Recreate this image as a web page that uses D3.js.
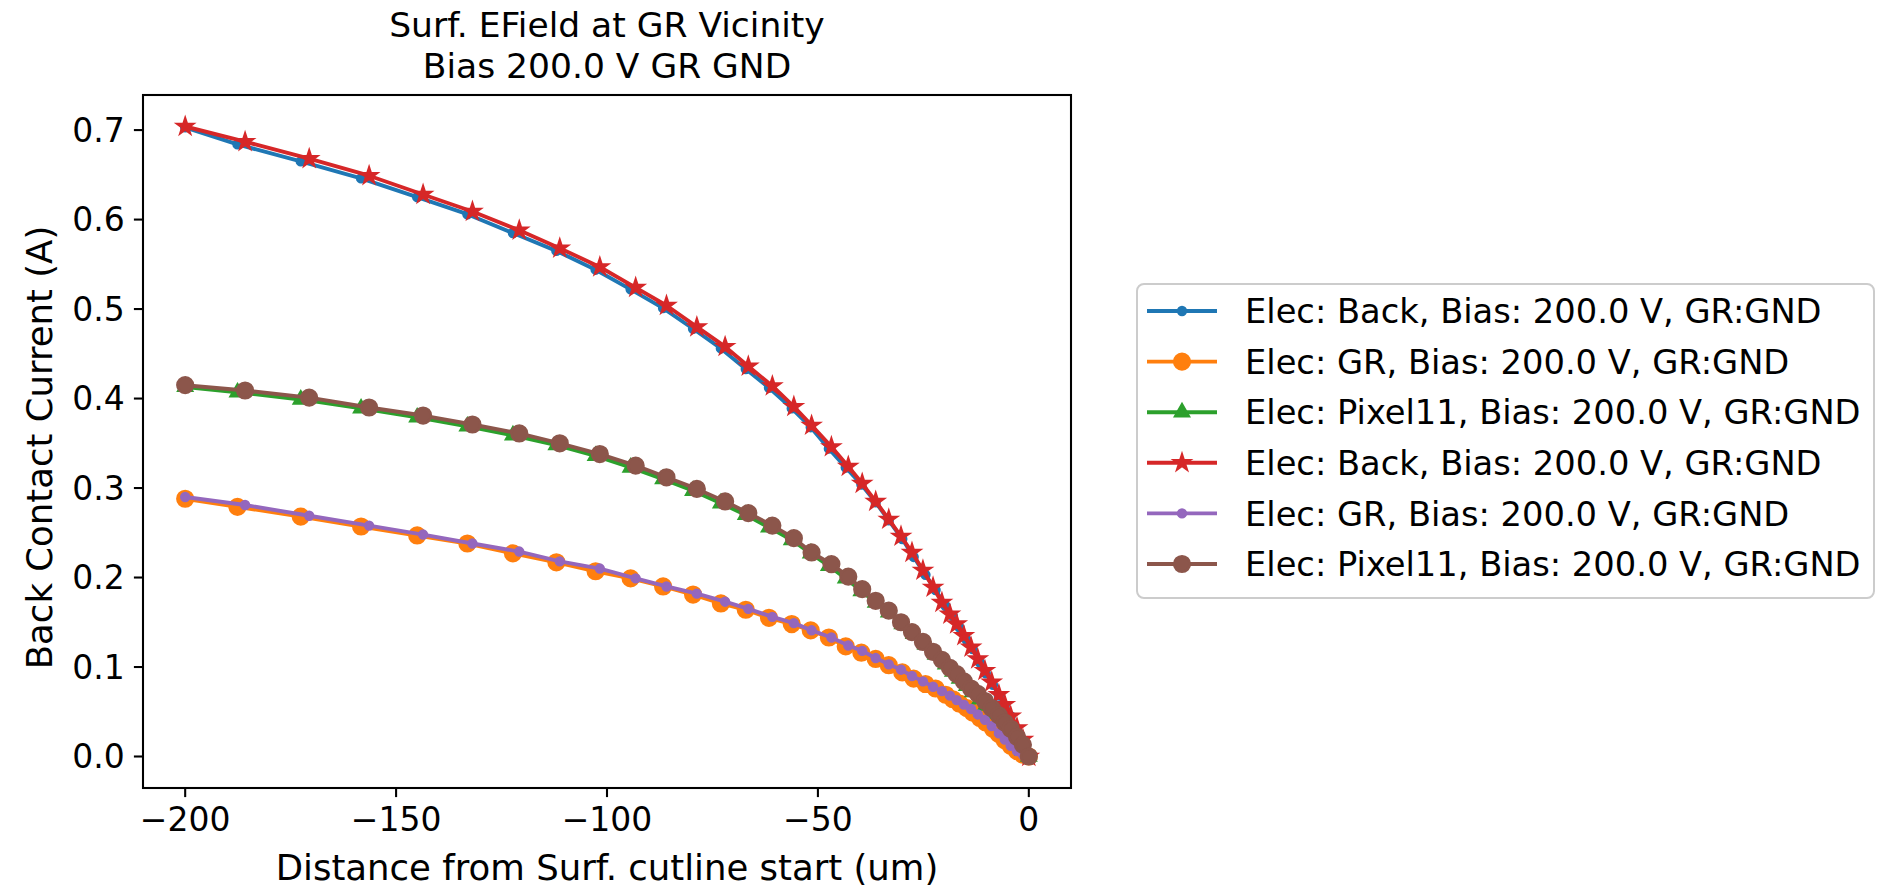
<!DOCTYPE html>
<html>
<head>
<meta charset="utf-8">
<script src="https://cdn.jsdelivr.net/npm/d3@7"></script>
<style>
  body { margin: 0; background: #fff; }
  svg text { font-family: "DejaVu Sans", sans-serif; fill: #000; }
</style>
</head>
<body>
<div id="chart"></div>
<script>
// x positions (um) of the two cutline meshes
var xMeshA = [-200, -187.6, -172.6, -158.3, -145.0, -133.1, -122.3, -112.0, -102.7, -94.4,
  -86.7, -79.6, -73.0, -67.1, -61.6, -56.2, -51.7, -47.4, -43.4, -39.7,
  -36.3, -33.2, -30.0, -27.3, -24.5, -22.1, -19.7, -18.0, -16.4, -14.7,
  -13.3, -11.6, -10.2, -8.5, -7.1, -5.7, -4.3, -2.8, -1.4, 0];
var xMeshB = [-200, -185.8, -170.6, -156.4, -143.6, -131.9, -120.8, -111.2, -101.7, -93.2,
  -85.9, -78.7, -72.0, -66.5, -60.8, -55.7, -51.5, -46.8, -42.8, -39.5,
  -36.3, -33.2, -30.3, -27.7, -25.1, -22.7, -20.6, -18.7, -17.1, -15.4,
  -13.7, -12.1, -10.4, -8.8, -7.1, -5.7, -4.3, -2.8, -1.4, 0];

// currents (A)
var backA = [0.703, 0.684, 0.665, 0.646, 0.625, 0.606, 0.585, 0.565, 0.544, 0.522,
  0.501, 0.478, 0.456, 0.433, 0.412, 0.389, 0.368, 0.344, 0.323, 0.304,
  0.284, 0.264, 0.243, 0.223, 0.203, 0.186, 0.168, 0.157, 0.144, 0.130,
  0.120, 0.105, 0.093, 0.080, 0.068, 0.057, 0.045, 0.031, 0.018, 0];
var grA = [0.288, 0.279, 0.268, 0.257, 0.247, 0.238, 0.227, 0.217, 0.207, 0.199,
  0.190, 0.181, 0.171, 0.164, 0.155, 0.148, 0.141, 0.133, 0.123, 0.116,
  0.109, 0.102, 0.094, 0.087, 0.081, 0.076, 0.069, 0.064, 0.059, 0.054,
  0.049, 0.043, 0.038, 0.031, 0.025, 0.018, 0.012, 0.006, 0.002, 0];
var pixelA = [0.413, 0.407, 0.399, 0.389, 0.379, 0.369, 0.359, 0.348, 0.336, 0.323,
  0.310, 0.297, 0.283, 0.270, 0.256, 0.242, 0.227, 0.213, 0.199, 0.185,
  0.172, 0.161, 0.148, 0.137, 0.125, 0.114, 0.103, 0.095, 0.087, 0.079,
  0.072, 0.064, 0.057, 0.048, 0.041, 0.033, 0.025, 0.016, 0.007, 0];
var backB = [0.704, 0.687, 0.668, 0.649, 0.628, 0.609, 0.588, 0.568, 0.547, 0.524,
  0.504, 0.480, 0.458, 0.436, 0.414, 0.391, 0.370, 0.346, 0.324, 0.305,
  0.285, 0.265, 0.246, 0.228, 0.208, 0.189, 0.172, 0.159, 0.148, 0.135,
  0.122, 0.109, 0.096, 0.083, 0.069, 0.058, 0.045, 0.032, 0.019, 0];
var grB = [0.290, 0.281, 0.269, 0.258, 0.248, 0.238, 0.229, 0.218, 0.210, 0.199,
  0.190, 0.182, 0.173, 0.165, 0.156, 0.149, 0.141, 0.133, 0.124, 0.118,
  0.110, 0.103, 0.097, 0.090, 0.084, 0.078, 0.073, 0.068, 0.063, 0.058,
  0.053, 0.047, 0.041, 0.034, 0.026, 0.019, 0.012, 0.006, 0.002, 0];
var pixelB = [0.415, 0.409, 0.401, 0.390, 0.381, 0.371, 0.361, 0.350, 0.338, 0.325,
  0.312, 0.299, 0.285, 0.272, 0.258, 0.244, 0.228, 0.215, 0.201, 0.187,
  0.174, 0.163, 0.150, 0.139, 0.128, 0.117, 0.108, 0.099, 0.092, 0.084,
  0.076, 0.070, 0.062, 0.054, 0.046, 0.038, 0.031, 0.022, 0.013, 0];

var seriesLabels = ["Elec: Back, Bias: 200.0 V, GR:GND", "Elec: GR, Bias: 200.0 V, GR:GND",
  "Elec: Pixel11, Bias: 200.0 V, GR:GND", "Elec: Back, Bias: 200.0 V, GR:GND",
  "Elec: GR, Bias: 200.0 V, GR:GND", "Elec: Pixel11, Bias: 200.0 V, GR:GND"];
var seriesColors = ["#1f77b4", "#ff7f0e", "#2ca02c", "#d62728", "#9467bd", "#8c564b"];
var seriesMarkers = ["point", "circle", "triangle", "star", "point", "circle"];

var xTicks = [-200, -150, -100, -50, 0];
var yTicks = [0.0, 0.1, 0.2, 0.3, 0.4, 0.5, 0.6, 0.7];

var titleLines = ["Surf. EField at GR Vicinity", "Bias 200.0 V GR GND"];
var xLabel = "Distance from Surf. cutline start (um)";
var yLabel = "Back Contact Current (A)";

// ---------------------------------------------------------------
var svgWidth = 1877, svgHeight = 888;
var plot = { left: 143, right: 1071, top: 95, bottom: 788 };
var tickFont = 33, labelFont = 35.5, titleFont = 34.5, legendFont = 33.7;
var pt = 2.6; // px per point

var series = [
  { x: xMeshA, y: backA }, { x: xMeshA, y: grA }, { x: xMeshA, y: pixelA },
  { x: xMeshB, y: backB }, { x: xMeshB, y: grB }, { x: xMeshB, y: pixelB }
].map(function(s, i) {
  return {
    label: seriesLabels[i], color: seriesColors[i], marker: seriesMarkers[i],
    points: s.x.map(function(v, j) { return { x: v, y: s.y[j] }; })
  };
});

var svg = d3.select("#chart").append("svg")
  .attr("width", svgWidth)
  .attr("height", svgHeight);

svg.append("rect").attr("width", svgWidth).attr("height", svgHeight).attr("fill", "#fff");

// matplotlib style 5% margins
var allPts = series.reduce(function(a, s) { return a.concat(s.points); }, []);
var xExt = d3.extent(allPts, d => d.x);
var yExt = d3.extent(allPts, d => d.y);
var xPad = (xExt[1] - xExt[0]) * 0.05;
var yPad = (yExt[1] - yExt[0]) * 0.05;

var xScale = d3.scaleLinear()
  .domain([xExt[0] - xPad, xExt[1] + xPad])
  .range([plot.left, plot.right]);
var yScale = d3.scaleLinear()
  .domain([yExt[0] - yPad, yExt[1] + yPad])
  .range([plot.bottom, plot.top]);

// marker shapes
function starPath(r) {
  var pts = [];
  for (var k = 0; k < 10; k++) {
    var rr = k % 2 === 0 ? r : r * 0.381966;
    var a = -Math.PI / 2 + k * Math.PI / 5;
    pts.push([rr * Math.cos(a), rr * Math.sin(a)]);
  }
  return "M" + pts.map(p => p[0].toFixed(2) + "," + p[1].toFixed(2)).join("L") + "Z";
}
function trianglePath(r) {
  var pts = [0, 1, 2].map(function(k) {
    var a = -Math.PI / 2 + k * 2 * Math.PI / 3;
    return [r * Math.cos(a), r * Math.sin(a)];
  });
  return "M" + pts.map(p => p[0].toFixed(2) + "," + p[1].toFixed(2)).join("L") + "Z";
}
var ms = 6 * pt / 2; // half of markersize 6
function drawMarker(g, type, color) {
  var m;
  if (type === "circle") m = g.append("circle").attr("r", ms);
  else if (type === "point") m = g.append("circle").attr("r", ms / 2);
  else if (type === "triangle") m = g.append("path").attr("d", trianglePath(ms));
  else m = g.append("path").attr("d", starPath(ms));
  m.attr("fill", color).attr("stroke", color).attr("stroke-width", pt);
  return m;
}

// ---------------------------------------------------------------
// series: line then markers, one series at a time
svg.append("clipPath").attr("id", "plotclip")
  .append("rect")
  .attr("x", plot.left).attr("y", plot.top)
  .attr("width", plot.right - plot.left).attr("height", plot.bottom - plot.top);

var lineGen = d3.line().x(d => xScale(d.x)).y(d => yScale(d.y));
var plotGroup = svg.append("g").attr("clip-path", "url(#plotclip)");

series.forEach(function(s) {
  var g = plotGroup.append("g");
  g.append("path")
    .datum(s.points)
    .attr("d", lineGen)
    .attr("fill", "none")
    .attr("stroke", s.color)
    .attr("stroke-width", 1.5 * pt)
    .attr("stroke-linejoin", "round")
    .attr("stroke-linecap", "square");
  s.points.forEach(function(p) {
    var mg = g.append("g").attr("transform", `translate(${xScale(p.x)},${yScale(p.y)})`);
    drawMarker(mg, s.marker, s.color);
  });
});

// ---------------------------------------------------------------
// axes
var tickLen = 3.5 * pt;
var axisColor = "#000";

var xAxis = svg.append("g");
xTicks.forEach(function(t) {
  var x = xScale(t);
  xAxis.append("line")
    .attr("x1", x).attr("x2", x)
    .attr("y1", plot.bottom).attr("y2", plot.bottom + tickLen)
    .attr("stroke", axisColor).attr("stroke-width", 0.8 * pt);
  xAxis.append("text")
    .attr("x", x).attr("y", plot.bottom + tickLen + 3.5 * pt + tickFont * 0.76)
    .attr("text-anchor", "middle")
    .style("font-size", tickFont + "px")
    .text(d3.format("d")(t));
});

var yAxis = svg.append("g");
yTicks.forEach(function(t) {
  var y = yScale(t);
  yAxis.append("line")
    .attr("x1", plot.left - tickLen).attr("x2", plot.left)
    .attr("y1", y).attr("y2", y)
    .attr("stroke", axisColor).attr("stroke-width", 0.8 * pt);
  yAxis.append("text")
    .attr("x", plot.left - tickLen - 3.5 * pt).attr("y", y)
    .attr("dy", "0.36em")
    .attr("text-anchor", "end")
    .style("font-size", tickFont + "px")
    .text(d3.format(".1f")(t));
});

// frame
svg.append("rect")
  .attr("x", plot.left).attr("y", plot.top)
  .attr("width", plot.right - plot.left).attr("height", plot.bottom - plot.top)
  .attr("fill", "none").attr("stroke", axisColor).attr("stroke-width", 0.8 * pt);

// labels and title
var midX = (plot.left + plot.right) / 2;
svg.append("text")
  .attr("x", midX).attr("y", 880)
  .attr("text-anchor", "middle")
  .style("font-size", labelFont + "px")
  .text(xLabel);

svg.append("text")
  .attr("transform", `translate(52, ${(plot.top + plot.bottom) / 2 + 6}) rotate(-90)`)
  .attr("text-anchor", "middle")
  .style("font-size", labelFont + "px")
  .text(yLabel);

titleLines.forEach(function(line, i) {
  svg.append("text")
    .attr("x", midX).attr("y", 37 + i * 41)
    .attr("text-anchor", "middle")
    .style("font-size", titleFont + "px")
    .text(line);
});

// ---------------------------------------------------------------
// legend
var legend = { x: 1137, y: 284, w: 737, h: 314, rowH: 50.6, firstRow: 311 };
svg.append("rect")
  .attr("x", legend.x).attr("y", legend.y)
  .attr("width", legend.w).attr("height", legend.h)
  .attr("rx", 7).attr("ry", 7)
  .attr("fill", "#fff").attr("fill-opacity", 0.8)
  .attr("stroke", "#cccccc").attr("stroke-width", 2);

series.forEach(function(s, i) {
  var cy = legend.firstRow + i * legend.rowH;
  var row = svg.append("g");
  row.append("line")
    .attr("x1", 1147).attr("x2", 1217)
    .attr("y1", cy).attr("y2", cy)
    .attr("stroke", s.color).attr("stroke-width", 1.5 * pt);
  drawMarker(row.append("g").attr("transform", `translate(1182,${cy})`), s.marker, s.color);
  row.append("text")
    .attr("x", 1245).attr("y", cy)
    .attr("dy", "0.36em")
    .style("font-size", legendFont + "px")
    .text(s.label);
});
</script>
</body>
</html>
